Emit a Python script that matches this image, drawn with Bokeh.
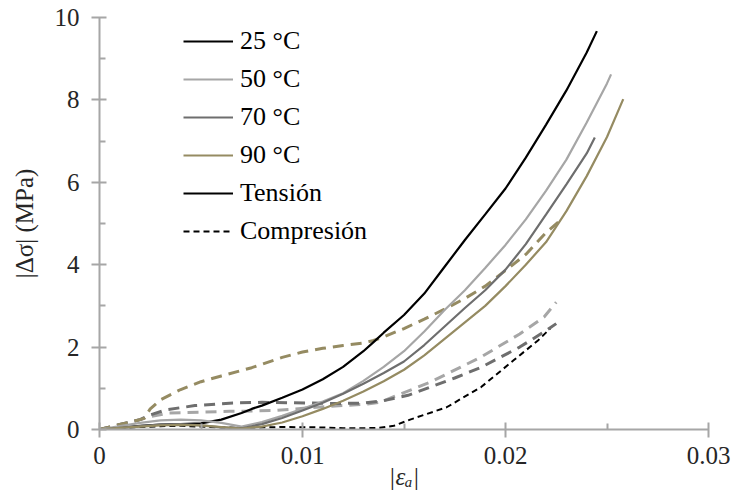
from bokeh.plotting import figure
from bokeh.models import (Range1d, FixedTicker, CustomJSTickFormatter, Legend,
                          LegendItem)
from bokeh.embed import file_html
from bokeh.resources import INLINE

# ---------------- data ----------------
x_ticks = [0, 0.01, 0.02, 0.03]
x_minor = [0.005, 0.015, 0.025]
y_ticks = [0, 2, 4, 6, 8, 10]
y_minor = [1, 3, 5, 7, 9]

# Tension (solid)
t25_x = [0, 0.001, 0.002, 0.003, 0.004, 0.005, 0.006, 0.007, 0.0075, 0.008,
         0.009, 0.010, 0.011, 0.012, 0.013, 0.0135, 0.014, 0.015, 0.016, 0.017,
         0.018, 0.019, 0.020, 0.021, 0.022, 0.023, 0.024, 0.0245]
t25_y = [0, 0.04, 0.09, 0.12, 0.13, 0.15, 0.24, 0.4, 0.5, 0.58,
         0.77, 0.97, 1.22, 1.52, 1.9, 2.12, 2.35, 2.78, 3.3, 3.95,
         4.6, 5.22, 5.85, 6.6, 7.4, 8.23, 9.15, 9.67]

t50_x = [0, 0.001, 0.002, 0.003, 0.004, 0.005, 0.006, 0.007, 0.008, 0.009,
         0.010, 0.011, 0.012, 0.013, 0.014, 0.015, 0.016, 0.017, 0.018, 0.019,
         0.020, 0.021, 0.022, 0.023, 0.024, 0.025, 0.0252]
t50_y = [0, 0.08, 0.16, 0.22, 0.24, 0.22, 0.16, 0.07, 0.18, 0.33,
         0.5, 0.68, 0.88, 1.18, 1.52, 1.9, 2.38, 2.9, 3.38, 3.92,
         4.48, 5.1, 5.8, 6.55, 7.45, 8.4, 8.62]

t70_x = [0, 0.001, 0.002, 0.003, 0.004, 0.005, 0.006, 0.007, 0.008, 0.009,
         0.010, 0.011, 0.012, 0.013, 0.014, 0.015, 0.016, 0.017, 0.018, 0.019,
         0.020, 0.021, 0.022, 0.023, 0.024, 0.0244]
t70_y = [0, 0.04, 0.08, 0.12, 0.13, 0.1, 0.05, 0.03, 0.13, 0.28,
         0.46, 0.65, 0.87, 1.11, 1.37, 1.65, 2.05, 2.5, 2.95, 3.38,
         3.88, 4.5, 5.22, 5.95, 6.7, 7.09]

t90_x = [0, 0.001, 0.002, 0.003, 0.004, 0.005, 0.006, 0.007, 0.008, 0.009,
         0.010, 0.011, 0.012, 0.013, 0.014, 0.015, 0.016, 0.017, 0.018, 0.019,
         0.020, 0.021, 0.022, 0.023, 0.024, 0.025, 0.0258]
t90_y = [0, 0.04, 0.07, 0.1, 0.11, 0.1, 0.06, 0.02, 0.07, 0.17,
         0.32, 0.5, 0.7, 0.92, 1.17, 1.45, 1.8, 2.2, 2.6, 3.0,
         3.48, 4.0, 4.55, 5.3, 6.15, 7.1, 8.02]

# Compression (dashed)
c25_x = [0, 0.001, 0.002, 0.003, 0.004, 0.005, 0.006, 0.007, 0.009, 0.011,
         0.012, 0.013, 0.0138, 0.0145, 0.0153, 0.0171, 0.0188, 0.0204, 0.0216, 0.0222]
c25_y = [0, 0.03, 0.06, 0.08, 0.09, 0.07, 0.05, 0.04, 0.06, 0.05,
         0.03, 0.03, 0.04, 0.09, 0.24, 0.54, 1.03, 1.68, 2.16, 2.45]

c50_x = [0, 0.001, 0.002, 0.0024, 0.0034, 0.005, 0.0064, 0.0086, 0.0107, 0.0132,
         0.0138, 0.0163, 0.0188, 0.0207, 0.0219, 0.0225]
c50_y = [0, 0.12, 0.24, 0.3, 0.4, 0.42, 0.44, 0.46, 0.54, 0.62,
         0.66, 1.15, 1.76, 2.32, 2.73, 3.09]

c70_x = [0, 0.001, 0.002, 0.0024, 0.0033, 0.0047, 0.0064, 0.008, 0.0095, 0.0115,
         0.013, 0.014, 0.0152, 0.0163, 0.0175, 0.0188, 0.0207, 0.022, 0.0225]
c70_y = [0, 0.12, 0.24, 0.34, 0.48, 0.58, 0.64, 0.66, 0.65, 0.63,
         0.64, 0.7, 0.83, 1.03, 1.25, 1.51, 2.0, 2.4, 2.57]

c90_x = [0, 0.001, 0.002, 0.0022, 0.0025, 0.003, 0.004, 0.005, 0.006, 0.0075,
         0.009, 0.010, 0.011, 0.012, 0.013, 0.0135, 0.014, 0.015, 0.016, 0.017,
         0.018, 0.019, 0.020, 0.021, 0.022, 0.0228]
c90_y = [0, 0.12, 0.24, 0.27, 0.5, 0.72, 0.97, 1.16, 1.3, 1.5,
         1.75, 1.88, 1.97, 2.04, 2.1, 2.16, 2.25, 2.45, 2.68, 2.92,
         3.18, 3.48, 3.86, 4.25, 4.78, 5.12]

temps = ["25 °C", "50 °C", "70 °C", "90 °C"]
colors = ["#000000", "#a6a6a6", "#6e6e6e", "#958b62"]
mode_labels = ["Tensión", "Compresión"]
x_title = "|εₐ|"
y_title = "|Δσ| (MPa)"

FONT = "Liberation Serif"
AXIS_COLOR = "#a6a6a6"
TEXT_COLOR = "#262626"

p = figure(width=731, height=499, x_range=Range1d(0, 0.03), y_range=Range1d(0, 10),
           output_backend="svg", toolbar_location=None,
           min_border_left=99, min_border_top=17, min_border_right=23,
           min_border_bottom=70)
p.outline_line_color = None
p.grid.visible = False
p.background_fill_color = "white"
p.border_fill_color = "white"

# compression (dashed) first
comp = []
for xs, ys, c in zip([c25_x, c50_x, c70_x, c90_x], [c25_y, c50_y, c70_y, c90_y], colors):
    if c == "#000000":
        r = p.line(xs, ys, line_color=c, line_width=2, line_dash="6 4")
    else:
        r = p.line(xs, ys, line_color=c, line_width=3, line_dash="11 7")
    comp.append(r)

tens = []
for xs, ys, c in zip([t25_x, t50_x, t70_x, t90_x], [t25_y, t50_y, t70_y, t90_y], colors):
    r = p.line(xs, ys, line_color=c, line_width=2.2)
    tens.append(r)

# axes
p.xaxis.ticker = FixedTicker(ticks=x_ticks, minor_ticks=x_minor)
p.yaxis.ticker = FixedTicker(ticks=y_ticks, minor_ticks=y_minor)
p.xaxis.formatter = CustomJSTickFormatter(code="return tick.toString();")
for ax in (p.xaxis, p.yaxis):
    ax.axis_line_color = AXIS_COLOR
    ax.axis_line_width = 2
    ax.major_tick_line_color = AXIS_COLOR
    ax.major_tick_line_width = 2
    ax.minor_tick_line_color = AXIS_COLOR
    ax.minor_tick_line_width = 2
    ax.major_tick_in = 7
    ax.major_tick_out = 8
    ax.minor_tick_in = 6
    ax.minor_tick_out = 0
    ax.major_label_text_font = FONT
    ax.major_label_text_font_size = "25px"
    ax.major_label_text_color = TEXT_COLOR
    ax.axis_label_text_font = FONT
    ax.axis_label_text_font_size = "25px"
    ax.axis_label_text_color = TEXT_COLOR
p.xaxis.major_label_standoff = 9
p.yaxis.major_label_standoff = 12

p.xaxis.axis_label = x_title
p.xaxis.axis_label_text_font_style = "italic"
p.xaxis.axis_label_standoff = -4

p.yaxis.axis_label = y_title
p.yaxis.axis_label_text_font_style = "normal"
p.yaxis.axis_label_standoff = 14

items = [LegendItem(label=t, renderers=[r]) for t, r in zip(temps, tens)]
items.append(LegendItem(label=mode_labels[0], renderers=[tens[0]]))
items.append(LegendItem(label=mode_labels[1], renderers=[comp[0]]))
legend = Legend(items=items, location=(84, 183), border_line_color=None,
                background_fill_alpha=0, label_text_font=FONT,
                label_text_font_size="26px", label_text_color="#000000",
                glyph_width=50, glyph_height=30, label_height=30,
                label_standoff=7, spacing=8, padding=0, margin=0)
p.add_layout(legend)

open("out.html", "w").write(file_html(p, INLINE))
